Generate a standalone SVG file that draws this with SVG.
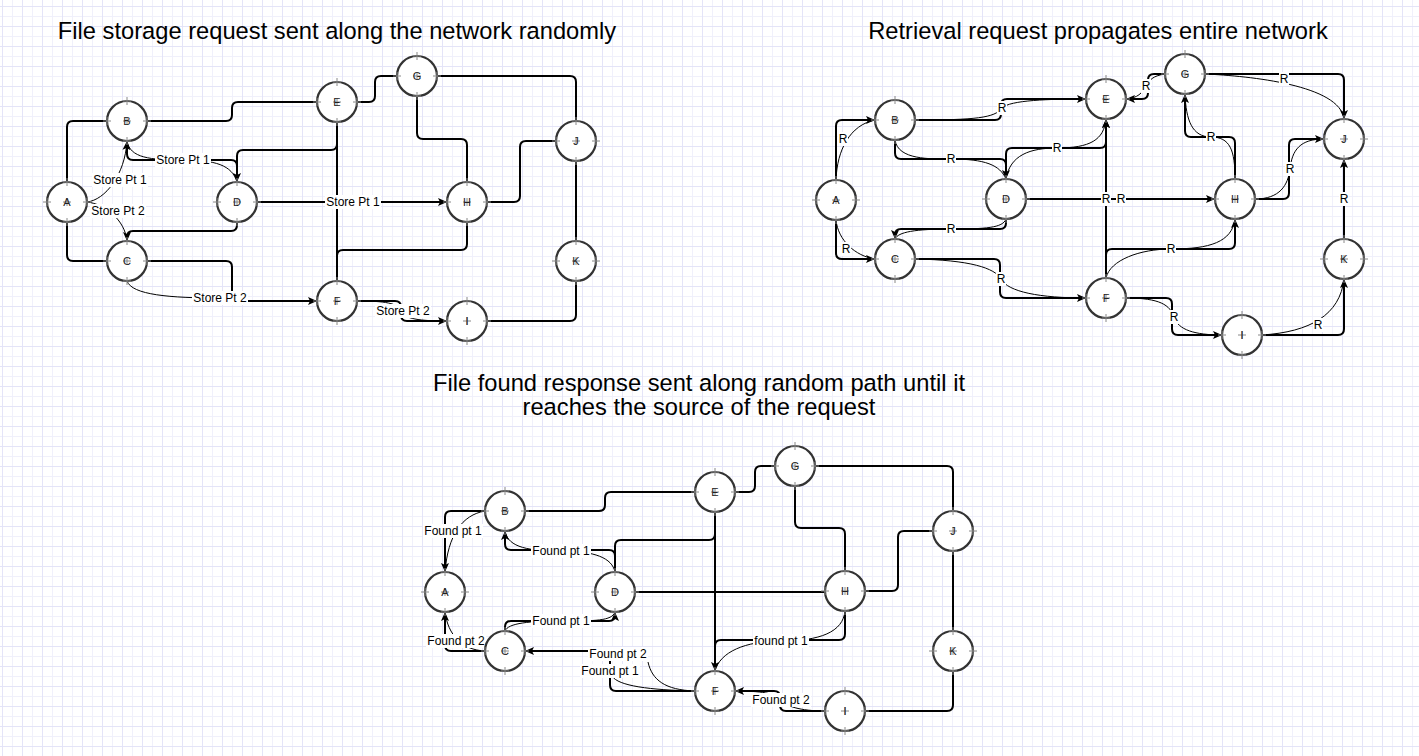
<svg xmlns="http://www.w3.org/2000/svg" width="1419" height="756" viewBox="0 0 1419 756">
<style>
.ttl{font-family:"Liberation Sans",Arial,sans-serif;font-size:23.7px;text-anchor:middle;fill:#000}
.lb{font-family:"Liberation Sans",Arial,sans-serif;font-size:12px;text-anchor:middle;fill:#000}
.lbg{fill:#fff}
.nl{font-family:"Liberation Sans",Arial,sans-serif;font-size:11px;text-anchor:middle;fill:#222}
.e{fill:none;stroke:#000;stroke-width:2}
.m{fill:none;stroke:#000;stroke-width:1}
</style>
<defs>
<pattern id="grid" patternUnits="userSpaceOnUse" x="2" y="6" width="20" height="20">
<rect width="20" height="20" fill="#fff"/>
<rect x="10" y="0" width="1" height="20" fill="#f0f0fb"/>
<rect x="0" y="10" width="20" height="1" fill="#f0f0fb"/>
<rect x="0" y="0" width="1" height="20" fill="#e4e4f8"/>
<rect x="0" y="0" width="20" height="1" fill="#e4e4f8"/>
</pattern>
<marker id="ah" viewBox="0 0 9 8" refX="9" refY="4" markerWidth="9" markerHeight="8" markerUnits="userSpaceOnUse" orient="auto">
<path d="M0,0L9,4L0,8L2,4z" fill="#000"/>
</marker>
<g id="nd">
<circle r="20" fill="#fff" stroke="#333" stroke-width="2.2"/>
<path d="M-24,0H-16M-20,-4V4M16,0H24M20,-4V4M0,-24V-16M-4,-20H4M0,16V24M-4,20H4M-4,0H4M0,-4V4" stroke="#888" stroke-width="1" fill="none"/>
</g>
</defs>
<rect width="1419" height="756" fill="url(#grid)"/>

<g id="titles">
<text class="ttl" x="337" y="39">File storage request sent along the network randomly</text>
<text class="ttl" x="1098" y="39">Retrieval request propagates entire network</text>
<text class="ttl" x="699" y="391">File found response sent along random path until it</text>
<text class="ttl" x="699" y="415">reaches the source of the request</text>
</g>

<g id="connectors">
<!-- Panel 1 -->
<path class="e" d="M67,182V127Q67,121 73,121H107"/>
<path class="e" d="M67,222V255Q67,261 73,261H107"/>
<path class="e" d="M147,121H226Q232,121 232,115V108Q232,102 238,102H317"/>
<path class="e" d="M357,102H369Q375,102 375,96V82Q375,76 381,76H397"/>
<path class="e" d="M437,76H570Q576,76 576,82V121"/>
<path class="e" d="M417,96V133Q417,139 423,139H461Q467,139 467,145V181"/>
<path class="e" d="M487,202H514Q520,202 520,196V147Q520,141 526,141H556"/>
<path class="e" d="M576,161V241"/>
<path class="e" d="M576,281V315Q576,321 570,321H487"/>
<path class="e" d="M337,122V144Q337,150 331,150H243Q237,150 237,156V182"/>
<path class="e" d="M337,122V281"/>
<path class="e" d="M127,141V154Q127,160 133,160H231Q237,160 237,166V182" marker-end="url(#ah)"/>
<path class="e" d="M257,202H447" marker-end="url(#ah)"/>
<path class="e" d="M237,222V225Q237,231 231,231H133Q127,231 127,237V241" marker-end="url(#ah)"/>
<path class="e" d="M147,261H226Q232,261 232,267V295Q232,301 238,301H317" marker-end="url(#ah)"/>
<path class="e" d="M467,222V244Q467,250 461,250H343Q337,250 337,256V281"/>
<path class="e" d="M357,301H395Q401,301 401,307V315Q401,321 407,321H447" marker-end="url(#ah)"/>
<path class="m" d="M87,202C105,200 125,175 127,141" marker-end="url(#ah)"/>
<path class="m" d="M87,202C105,204 125,220 127,241"/>
<path class="m" d="M127,141C130,158 150,160 183,160C215,160 232,165 237,182"/>
<path class="m" d="M127,281C132,295 170,298 220,298"/>
<path class="m" d="M357,301C385,301 398,303 401,311C404,319 420,321 447,321"/>
<rect class="lbg" x="92" y="173" width="56" height="14"/><text class="lb" x="120" y="184">Store Pt 1</text>
<rect class="lbg" x="90" y="204" width="56" height="14"/><text class="lb" x="118" y="215">Store Pt 2</text>
<rect class="lbg" x="155" y="153" width="56" height="14"/><text class="lb" x="183" y="164">Store Pt 1</text>
<rect class="lbg" x="325" y="195" width="56" height="14"/><text class="lb" x="353" y="206">Store Pt 1</text>
<rect class="lbg" x="192" y="291" width="56" height="14"/><text class="lb" x="220" y="302">Store Pt 2</text>
<rect class="lbg" x="375" y="304" width="56" height="14"/><text class="lb" x="403" y="315">Store Pt 2</text>

<!-- Panel 2 -->
<path class="e" d="M836,180V126Q836,120 842,120H875" marker-end="url(#ah)"/>
<path class="e" d="M836,220V253Q836,259 842,259H875" marker-end="url(#ah)"/>
<path class="e" d="M915,120H995Q1001,120 1001,114V105Q1001,99 1007,99H1086" marker-end="url(#ah)"/>
<path class="e" d="M895,140V153Q895,159 901,159H1000Q1006,159 1006,165V179" marker-end="url(#ah)"/>
<path class="e" d="M1006,179V154Q1006,148 1012,148H1100Q1106,148 1106,142V119" marker-end="url(#ah)"/>
<path class="e" d="M1006,219V223Q1006,229 1000,229H901Q895,229 895,235V239" marker-end="url(#ah)"/>
<path class="e" d="M915,259H994Q1000,259 1000,265V292Q1000,298 1006,298H1086" marker-end="url(#ah)"/>
<path class="e" d="M1026,199H1215" marker-end="url(#ah)"/>
<path class="e" d="M1106,278V119" marker-end="url(#ah)"/>
<path class="e" d="M1106,278V255Q1106,249 1112,249H1229Q1235,249 1235,243V219" marker-end="url(#ah)"/>
<path class="e" d="M1126,298H1166Q1172,298 1172,304V329Q1172,335 1178,335H1222" marker-end="url(#ah)"/>
<path class="e" d="M1165,74H1154Q1148,74 1148,80V93Q1148,99 1142,99H1126" marker-end="url(#ah)"/>
<path class="e" d="M1205,74H1338Q1344,74 1344,80V119" marker-end="url(#ah)"/>
<path class="e" d="M1235,179V143Q1235,137 1229,137H1191Q1185,137 1185,131V94" marker-end="url(#ah)"/>
<path class="e" d="M1255,199H1283Q1289,199 1289,193V145Q1289,139 1295,139H1324" marker-end="url(#ah)"/>
<path class="e" d="M1344,239V159" marker-end="url(#ah)"/>
<path class="e" d="M1262,335H1338Q1344,335 1344,329V279" marker-end="url(#ah)"/>
<path class="m" d="M836,180C837,150 850,125 875,120"/>
<path class="m" d="M836,220C838,240 855,256 875,259"/>
<path class="m" d="M915,120C975,120 995,118 1002,108C1010,100 1050,99 1086,99"/>
<path class="m" d="M895,140C898,160 930,159 951,159C985,159 1000,165 1006,179"/>
<path class="m" d="M1006,179C1010,155 1030,148 1057,148C1090,148 1104,140 1106,119"/>
<path class="m" d="M1006,219C1003,228 985,229 951,229C915,229 898,232 895,239"/>
<path class="m" d="M915,259C970,260 995,268 1001,279C1008,292 1040,298 1086,298"/>
<path class="m" d="M1106,278C1110,260 1140,249 1171,249C1210,249 1232,242 1235,219"/>
<path class="m" d="M1126,298C1160,298 1170,305 1174,317C1178,330 1195,335 1222,335"/>
<path class="m" d="M1165,74C1152,76 1150,80 1146,86C1142,93 1138,98 1126,99"/>
<path class="m" d="M1205,74C1250,76 1340,85 1344,119"/>
<path class="m" d="M1235,179C1235,150 1230,137 1211,137C1192,137 1186,120 1185,94"/>
<path class="m" d="M1255,199C1280,199 1288,185 1290,169C1292,150 1300,139 1324,139"/>
<path class="m" d="M1262,335C1310,332 1340,315 1344,279"/>
<rect class="lbg" x="838" y="132" width="10" height="14"/><text class="lb" x="843" y="143">R</text>
<rect class="lbg" x="841" y="242" width="10" height="14"/><text class="lb" x="846" y="253">R</text>
<rect class="lbg" x="997" y="101" width="10" height="14"/><text class="lb" x="1002" y="112">R</text>
<rect class="lbg" x="946" y="152" width="10" height="14"/><text class="lb" x="951" y="163">R</text>
<rect class="lbg" x="1052" y="141" width="10" height="14"/><text class="lb" x="1057" y="152">R</text>
<rect class="lbg" x="946" y="222" width="10" height="14"/><text class="lb" x="951" y="233">R</text>
<rect class="lbg" x="996" y="272" width="10" height="14"/><text class="lb" x="1001" y="283">R</text>
<rect class="lbg" x="1101" y="192" width="10" height="14"/><text class="lb" x="1106" y="203">R</text>
<rect class="lbg" x="1116" y="192" width="10" height="14"/><text class="lb" x="1121" y="203">R</text>
<rect class="lbg" x="1166" y="242" width="10" height="14"/><text class="lb" x="1171" y="253">R</text>
<rect class="lbg" x="1169" y="310" width="10" height="14"/><text class="lb" x="1174" y="321">R</text>
<rect class="lbg" x="1141" y="79" width="10" height="14"/><text class="lb" x="1146" y="90">R</text>
<rect class="lbg" x="1279" y="72" width="10" height="14"/><text class="lb" x="1284" y="83">R</text>
<rect class="lbg" x="1206" y="130" width="10" height="14"/><text class="lb" x="1211" y="141">R</text>
<rect class="lbg" x="1285" y="162" width="10" height="14"/><text class="lb" x="1290" y="173">R</text>
<rect class="lbg" x="1339" y="192" width="10" height="14"/><text class="lb" x="1344" y="203">R</text>
<rect class="lbg" x="1313" y="318" width="10" height="14"/><text class="lb" x="1318" y="329">R</text>

<!-- Panel 3 -->
<path class="e" d="M485,511H451Q445,511 445,517V572" marker-end="url(#ah)"/>
<path class="e" d="M485,651H451Q445,651 445,645V612" marker-end="url(#ah)"/>
<path class="e" d="M525,511H599Q605,511 605,505V498Q605,492 611,492H695"/>
<path class="e" d="M735,492H749Q755,492 755,486V472Q755,466 761,466H775"/>
<path class="e" d="M815,466H947Q953,466 953,472V511"/>
<path class="e" d="M795,486V522Q795,528 801,528H839Q845,528 845,534V571"/>
<path class="e" d="M865,591H892Q898,591 898,585V537Q898,531 904,531H933"/>
<path class="e" d="M953,551V631"/>
<path class="e" d="M953,671V705Q953,711 947,711H865"/>
<path class="e" d="M715,512V534Q715,540 709,540H621Q615,540 615,546V572"/>
<path class="e" d="M615,572V556Q615,550 609,550H511Q505,550 505,544V531" marker-end="url(#ah)"/>
<path class="e" d="M635,592H825"/>
<path class="e" d="M715,512V671" marker-end="url(#ah)"/>
<path class="e" d="M845,611V634Q845,640 839,640H721Q715,640 715,646V671"/>
<path class="e" d="M505,631V627Q505,621 511,621H609Q615,621 615,615V612" marker-end="url(#ah)"/>
<path class="e" d="M695,691H616Q610,691 610,685V657Q610,651 604,651H525" marker-end="url(#ah)"/>
<path class="e" d="M825,711H786Q780,711 780,705V697Q780,691 774,691H735" marker-end="url(#ah)"/>
<path class="m" d="M485,511C462,515 448,535 445,572"/>
<path class="m" d="M485,651C462,650 448,635 445,612"/>
<path class="m" d="M615,572C612,558 595,551 561,551C530,551 508,548 505,531"/>
<path class="m" d="M505,631C508,623 530,621 561,621C595,621 612,621 615,612"/>
<path class="m" d="M845,611C843,632 820,641 781,641C745,641 720,652 715,671"/>
<path class="m" d="M695,691C665,690 652,680 648,662"/>
<path class="m" d="M695,691C650,690 618,686 612,676"/>
<path class="m" d="M825,711C800,711 785,706 781,700C776,693 760,691 735,691"/>
<rect class="lbg" x="423" y="524" width="60" height="14"/><text class="lb" x="453" y="535">Found pt 1</text>
<rect class="lbg" x="531" y="544" width="60" height="14"/><text class="lb" x="561" y="555">Found pt 1</text>
<rect class="lbg" x="531" y="614" width="60" height="14"/><text class="lb" x="561" y="625">Found pt 1</text>
<rect class="lbg" x="426" y="634" width="60" height="14"/><text class="lb" x="456" y="645">Found pt 2</text>
<rect class="lbg" x="588" y="647" width="60" height="14"/><text class="lb" x="618" y="658">Found pt 2</text>
<rect class="lbg" x="580" y="664" width="60" height="14"/><text class="lb" x="610" y="675">Found pt 1</text>
<rect class="lbg" x="753" y="634" width="56" height="14"/><text class="lb" x="781" y="645">found pt 1</text>
<rect class="lbg" x="751" y="693" width="60" height="14"/><text class="lb" x="781" y="704">Found pt 2</text>
</g>

<!-- Panel 1 nodes -->
<g id="p1-A"><use href="#nd" x="67" y="202"/><text class="nl" x="67" y="206">A</text></g>
<g id="p1-B"><use href="#nd" x="127" y="121"/><text class="nl" x="127" y="125">B</text></g>
<g id="p1-C"><use href="#nd" x="127" y="261"/><text class="nl" x="127" y="265">C</text></g>
<g id="p1-D"><use href="#nd" x="237" y="202"/><text class="nl" x="237" y="206">D</text></g>
<g id="p1-E"><use href="#nd" x="337" y="102"/><text class="nl" x="337" y="106">E</text></g>
<g id="p1-F"><use href="#nd" x="337" y="301"/><text class="nl" x="337" y="305">F</text></g>
<g id="p1-G"><use href="#nd" x="417" y="76"/><text class="nl" x="417" y="80">G</text></g>
<g id="p1-H"><use href="#nd" x="467" y="202"/><text class="nl" x="467" y="206">H</text></g>
<g id="p1-I"><use href="#nd" x="467" y="321"/><text class="nl" x="467" y="325">I</text></g>
<g id="p1-J"><use href="#nd" x="576" y="141"/><text class="nl" x="576" y="145">J</text></g>
<g id="p1-K"><use href="#nd" x="576" y="261"/><text class="nl" x="576" y="265">K</text></g>

<!-- Panel 2 nodes -->
<g id="p2-A"><use href="#nd" x="836" y="200"/><text class="nl" x="836" y="204">A</text></g>
<g id="p2-B"><use href="#nd" x="895" y="120"/><text class="nl" x="895" y="124">B</text></g>
<g id="p2-C"><use href="#nd" x="895" y="259"/><text class="nl" x="895" y="263">C</text></g>
<g id="p2-D"><use href="#nd" x="1006" y="199"/><text class="nl" x="1006" y="203">D</text></g>
<g id="p2-E"><use href="#nd" x="1106" y="99"/><text class="nl" x="1106" y="103">E</text></g>
<g id="p2-F"><use href="#nd" x="1106" y="298"/><text class="nl" x="1106" y="302">F</text></g>
<g id="p2-G"><use href="#nd" x="1185" y="74"/><text class="nl" x="1185" y="78">G</text></g>
<g id="p2-H"><use href="#nd" x="1235" y="199"/><text class="nl" x="1235" y="203">H</text></g>
<g id="p2-I"><use href="#nd" x="1242" y="335"/><text class="nl" x="1242" y="339">I</text></g>
<g id="p2-J"><use href="#nd" x="1344" y="139"/><text class="nl" x="1344" y="143">J</text></g>
<g id="p2-K"><use href="#nd" x="1344" y="259"/><text class="nl" x="1344" y="263">K</text></g>

<!-- Panel 3 nodes -->
<g id="p3-A"><use href="#nd" x="445" y="592"/><text class="nl" x="445" y="596">A</text></g>
<g id="p3-B"><use href="#nd" x="505" y="511"/><text class="nl" x="505" y="515">B</text></g>
<g id="p3-C"><use href="#nd" x="505" y="651"/><text class="nl" x="505" y="655">C</text></g>
<g id="p3-D"><use href="#nd" x="615" y="592"/><text class="nl" x="615" y="596">D</text></g>
<g id="p3-E"><use href="#nd" x="715" y="492"/><text class="nl" x="715" y="496">E</text></g>
<g id="p3-F"><use href="#nd" x="715" y="691"/><text class="nl" x="715" y="695">F</text></g>
<g id="p3-G"><use href="#nd" x="795" y="466"/><text class="nl" x="795" y="470">G</text></g>
<g id="p3-H"><use href="#nd" x="845" y="591"/><text class="nl" x="845" y="595">H</text></g>
<g id="p3-I"><use href="#nd" x="845" y="711"/><text class="nl" x="845" y="715">I</text></g>
<g id="p3-J"><use href="#nd" x="953" y="531"/><text class="nl" x="953" y="535">J</text></g>
<g id="p3-K"><use href="#nd" x="953" y="651"/><text class="nl" x="953" y="655">K</text></g>
</svg>
